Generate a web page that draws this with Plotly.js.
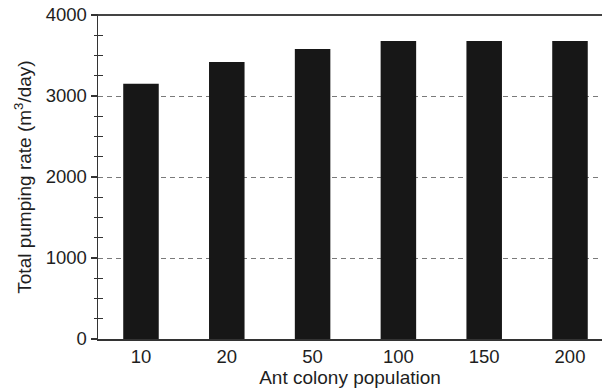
<!DOCTYPE html>
<html>
<head>
<meta charset="utf-8">
<script src="https://cdn.plot.ly/plotly-3.0.1.min.js"></script>
<style>html,body{margin:0;padding:0;background:#fff;}#chart{width:602px;height:392px;}</style>
</head>
<body>
<div id="chart"></div>
<script>
var populations = ['10', '20', '50', '100', '150', '200'];
var pumpingRates = [3150, 3420, 3580, 3680, 3680, 3680];
var yMajorTicks = [0, 1000, 2000, 3000, 4000];
var yMinorTicks = [250, 500, 750, 1250, 1500, 1750, 2250, 2500, 2750, 3250, 3500, 3750];

var fontFam = 'Liberation Sans, Arial, Helvetica, sans-serif';
var txt = '#1e1e1e';

var data = [
  {
    type: 'bar',
    x: populations,
    y: pumpingRates,
    width: 0.414,
    marker: {color: '#171717', line: {width: 0}},
    hoverinfo: 'x+y',
    xaxis: 'x',
    yaxis: 'y'
  },
  {
    type: 'scatter',
    mode: 'markers',
    x: [populations[0]],
    y: [0],
    marker: {opacity: 0},
    hoverinfo: 'skip',
    showlegend: false,
    xaxis: 'x',
    yaxis: 'y2'
  }
];

var layout = {
  width: 602,
  height: 392,
  margin: {l: 98, r: 0, t: 15, b: 53, pad: 0},
  paper_bgcolor: '#fff',
  plot_bgcolor: '#fff',
  showlegend: false,
  font: {family: fontFam, size: 18, color: txt},
  xaxis: {
    type: 'category',
    range: [-0.501, 5.373],
    showgrid: false,
    showline: true,
    linecolor: '#333',
    linewidth: 1.5,
    mirror: true,
    ticks: '',
    tickfont: {family: fontFam, size: 18.5, color: txt},
    title: {text: 'Ant colony population', font: {family: fontFam, size: 19, color: txt}, standoff: 3},
    zeroline: false,
    fixedrange: true
  },
  yaxis: {
    range: [0, 4000],
    tickvals: yMajorTicks,
    ticktext: yMajorTicks.map(String),
    ticks: 'outside',
    ticklen: 6,
    tickwidth: 1.2,
    tickcolor: '#333',
    showline: true,
    linecolor: '#333',
    linewidth: 1.5,
    showgrid: true,
    gridcolor: '#7a7a7a',
    gridwidth: 1,
    griddash: '5px,4px',
    zeroline: false,
    minor: {tickvals: yMinorTicks, ticks: 'outside', ticklen: 3, tickwidth: 1.2, tickcolor: '#333', showgrid: false},
    tickfont: {family: fontFam, size: 18.5, color: txt},
    title: {text: 'Total pumping rate (m<sup>3</sup>/day)', font: {family: fontFam, size: 19, color: txt}, standoff: 9},
    fixedrange: true
  },
  yaxis2: {
    overlaying: 'y',
    side: 'left',
    range: [0, 4000],
    tickvals: yMinorTicks,
    ticks: 'inside',
    ticklen: 5,
    tickwidth: 1.2,
    tickcolor: '#333',
    showticklabels: false,
    showgrid: false,
    showline: false,
    zeroline: false,
    fixedrange: true
  },
  shapes: [
    {type: 'line', xref: 'paper', yref: 'paper', x0: 0, x1: 1, y0: 1, y1: 1, line: {color: '#444', width: 2}}
  ]
};

Plotly.newPlot('chart', data, layout, {displayModeBar: false, staticPlot: true});
</script>
</body>
</html>
